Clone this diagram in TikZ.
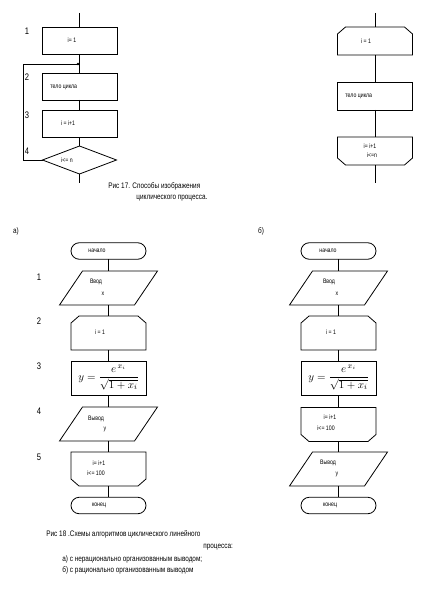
\documentclass[tikz,border=0pt]{standalone}
\usepackage{amsmath}
\usepackage{fontspec}
\setmainfont[FakeStretch=0.8]{Liberation Sans}
\usetikzlibrary{shapes.geometric,shapes.misc}

% параллелограмм ввода/вывода вокруг узла
\newcommand{\drawio}[1]{%
    \draw ([xshift=11.5pt]#1.north west) -- ([xshift=11.5pt]#1.north east)
        -- ([xshift=-11.5pt]#1.south east) -- ([xshift=-11.5pt]#1.south west) -- cycle;}
% начало цикла: срезаны верхние углы
\newcommand{\drawhextop}[1]{%
    \draw ([xshift=8pt]#1.north west) -- ([xshift=-8pt]#1.north east)
        -- ([yshift=-7pt]#1.north east) -- (#1.south east) -- (#1.south west)
        -- ([yshift=-7pt]#1.north west) -- cycle;}
% конец цикла: срезаны нижние углы
\newcommand{\drawhexbot}[1]{%
    \draw (#1.north west) -- (#1.north east) -- ([yshift=7pt]#1.south east)
        -- ([xshift=-8pt]#1.south east) -- ([xshift=8pt]#1.south west)
        -- ([yshift=7pt]#1.south west) -- cycle;}

\begin{document}
\begin{tikzpicture}[x=1pt, y=-1pt, line width=0.8pt,
    blk/.style={draw, rectangle, minimum width=75pt, minimum height=27pt, inner sep=0pt, outer sep=0pt},
    shell/.style={rectangle, minimum width=75pt, minimum height=34pt, inner sep=0pt, outer sep=0pt},
    term/.style={draw, rounded rectangle, minimum width=75pt, minimum height=16.5pt, inner sep=0pt, outer sep=0pt},
    cond/.style={draw, diamond, minimum width=74pt, minimum height=28pt, inner sep=0pt, outer sep=0pt},
    txt/.style={font=\fontsize{6.5}{9}\selectfont, inner sep=0pt},
    num/.style={font=\fontsize{9.5}{10}\selectfont, inner sep=0pt},
    frm/.style={inner sep=0pt, font=\fontsize{11}{13}\selectfont},
    capline/.style={font=\fontsize{8}{10}\selectfont, inner sep=0pt, anchor=west}]
    \useasboundingbox (0,0) rectangle (437,607);

    % Рис. 17, слева
    \coordinate (ltop) at (79.5,13);
    \node[blk] (b1) at (79.5,40.5) {};
    \node[blk] (b2) at (79.5,86.5) {};
    \node[blk] (b3) at (79.5,123.5) {};
    \node[cond] (d4) at (79.5,160) {};
    \coordinate (lbot) at (79.5,183);
    \coordinate (j) at (79.5,64);
    \coordinate (loop) at (23,64);
    \node[txt] (b1t) at (72,40.5) {i= 1};
    \node[txt, anchor=west] (b2t) at (50,87) {тело цикла};
    \node[txt] (b3t) at (68,123) {i = i+1};
    \node[txt] (d4t) at (67,160) {i<= n};
    \draw (ltop) -- (b1);
    \draw (b1) -- (b2);
    \draw (b2) -- (b3);
    \draw (b3) -- (d4);
    \draw (d4) -- (lbot);
    \draw (d4.west) -| (loop) -- (j);
    \fill ([xshift=-1.5pt]j) circle (1.3pt);
    \foreach \n/\y in {1/31,2/77,3/115,4/151}
        \node[num] (n\n) at (27,\y) {\n};

    % Рис. 17, справа
    \coordinate (rtop) at (375,13);
    \node[shell, minimum height=28pt] (c1) at (375,41) {};
    \node[blk, minimum height=28pt] (c2) at (375,96) {};
    \node[shell, minimum height=28pt] (c3) at (375,151) {};
    \drawhextop{c1}
    \drawhexbot{c3}
    \coordinate (rbot) at (375,183);
    \node[txt] (c1t) at (366,41) {i = 1};
    \node[txt, anchor=west] (c2t) at (345,96) {тело цикла};
    \node[txt, align=center] (c3t) at (370,150.5) {i= i+1\\ \hspace*{4pt}i<=n};
    \draw (rtop) -- (c1);
    \draw (c1) -- (c2);
    \draw (c2) -- (c3);
    \draw (c3) -- (rbot);

    \node[capline] (cap17a) at (108,186) {Рис 17. Способы изображения};
    \node[capline] (cap17b) at (136,198) {циклического процесса.};

    % Рис. 18 а)
    \node[num, font=\fontsize{8}{10}\selectfont] (la) at (16,231) {а)};
    \node[term] (s1) at (108.5,251) {};
    \node[shell] (p1) at (108.5,288) {};
    \node[shell] (h1) at (108.5,333) {};
    \node[blk, minimum height=34pt] (f1) at (108.5,378) {};
    \node[shell] (p2) at (108.5,424) {};
    \node[shell] (h2) at (108.5,469) {};
    \node[term] (e1) at (108.5,505.5) {};
    \drawio{p1}
    \drawhextop{h1}
    \drawio{p2}
    \drawhexbot{h2}
    \node[txt] (s1t) at (97,251) {начало};
    \node[txt] (p1t) at (96,282) {Ввод};
    \node[txt] (p1x) at (103,294) {x};
    \node[txt] (h1t) at (100,332) {i = 1};
    \node[frm] (f1t) at (108.5,378) {$y=\dfrac{e^{\,x_i}}{\sqrt{1+x_i}}$};
    \node[txt] (p2t) at (96,419) {Вывод};
    \node[txt] (p2y) at (105,429) {y};
    \node[txt] (h2t) at (99,463) {i= i+1};
    \node[txt] (h2c) at (96,473) {i<= 100};
    \node[txt] (e1t) at (99,505.5) {конец};
    \draw (s1) -- (p1);
    \draw (p1) -- (h1);
    \draw (h1) -- (f1);
    \draw (f1) -- (p2);
    \draw (p2) -- (h2);
    \draw (h2) -- (e1);
    \foreach \n/\y in {1/277,2/321,3/366,4/411,5/457}
        \node[num] (m\n) at (39,\y) {\n};

    % Рис. 18 б)
    \node[num, font=\fontsize{8}{10}\selectfont] (lb) at (261,231) {б)};
    \node[term] (s2) at (338.5,251) {};
    \node[shell] (q1) at (338.5,288) {};
    \node[shell] (g1) at (338.5,333) {};
    \node[blk, minimum height=34pt] (f2) at (338.5,378) {};
    \node[shell] (g2) at (338.5,424.5) {};
    \node[shell] (q2) at (338.5,469) {};
    \node[term] (e2) at (338.5,505.5) {};
    \drawio{q1}
    \drawhextop{g1}
    \drawhexbot{g2}
    \drawio{q2}
    \node[txt] (s2t) at (328,251) {начало};
    \node[txt] (q1t) at (329,282) {Ввод};
    \node[txt] (q1x) at (337,294) {x};
    \node[txt] (g1t) at (331,332) {i = 1};
    \node[frm] (f2t) at (338.5,378) {$y=\dfrac{e^{\,x_i}}{\sqrt{1+x_i}}$};
    \node[txt] (g2t) at (330,417) {i= i+1};
    \node[txt] (g2c) at (326,428) {i<= 100};
    \node[txt] (q2t) at (328,463) {Вывод};
    \node[txt] (q2y) at (337,474) {y};
    \node[txt] (e2t) at (330,505.5) {конец};
    \draw (s2) -- (q1);
    \draw (q1) -- (g1);
    \draw (g1) -- (f2);
    \draw (f2) -- (g2);
    \draw (g2) -- (q2);
    \draw (q2) -- (e2);

    \node[capline] (cap18a) at (46,534) {Рис 18 .Схемы алгоритмов циклического линейного};
    \node[capline] (cap18b) at (203,547) {процесса:};
    \node[capline] (cap18c) at (62,559) {а) с нерационально организованным выводом;};
    \node[capline] (cap18d) at (62,570) {б) с рационально организованным выводом};
\end{tikzpicture}
\end{document}
